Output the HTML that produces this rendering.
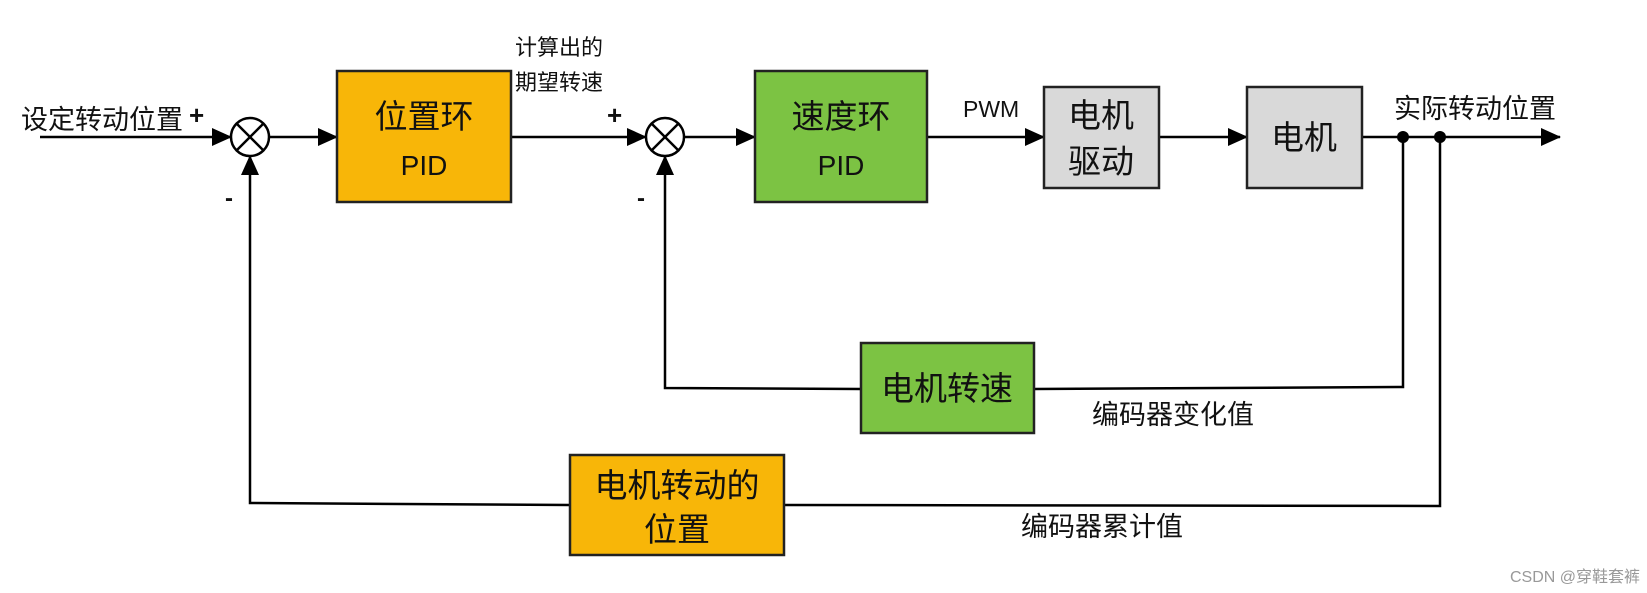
<!DOCTYPE html>
<html><head><meta charset="utf-8"><style>
html,body{margin:0;padding:0;background:#fff;}
svg{display:block;}
text{font-family:"Liberation Sans","Noto Sans CJK SC",sans-serif;fill:#111;}
</style></head><body>
<svg width="1647" height="593" viewBox="0 0 1647 593" xmlns="http://www.w3.org/2000/svg">
<defs>
<marker id="b" markerWidth="20" markerHeight="20" refX="19" refY="10" orient="auto" markerUnits="userSpaceOnUse"><path d="M0,1 L20,10 L0,19 Z" fill="#000"/></marker></defs>
<g stroke="#000" stroke-width="2.5" fill="none">
<line x1="40" y1="137" x2="231" y2="137" marker-end="url(#b)"/>
<line x1="269" y1="137" x2="337" y2="137" marker-end="url(#b)"/>
<line x1="511" y1="137" x2="646" y2="137" marker-end="url(#b)"/>
<line x1="684" y1="137" x2="755" y2="137" marker-end="url(#b)"/>
<line x1="927" y1="137" x2="1044" y2="137" marker-end="url(#b)"/>
<line x1="1159" y1="137" x2="1247" y2="137" marker-end="url(#b)"/>
<line x1="1362" y1="137" x2="1560" y2="137" marker-end="url(#b)"/>
<polyline points="1403,137 1403,387 1034,389"/>
<polyline points="861,389 665,388 665,156" marker-end="url(#b)"/>
<polyline points="1440,137 1440,506 784,505"/>
<polyline points="570,505 250,503 250,156" marker-end="url(#b)"/>
<circle cx="250" cy="137" r="19" fill="#fff"/>
<line x1="237" y1="124" x2="263" y2="150"/><line x1="263" y1="124" x2="237" y2="150"/>
<circle cx="665" cy="137" r="19" fill="#fff"/>
<line x1="652" y1="124" x2="678" y2="150"/><line x1="678" y1="124" x2="652" y2="150"/>
</g>
<circle cx="1403" cy="137" r="6" fill="#000"/>
<circle cx="1440" cy="137" r="6" fill="#000"/>
<g stroke="#222" stroke-width="2.5">
<rect x="337" y="71" width="174" height="131" fill="#F8B608"/>
<rect x="755" y="71" width="172" height="131" fill="#7CC343"/>
<rect x="1044" y="87" width="115" height="101" fill="#D9D9D9"/>
<rect x="1247" y="87" width="115" height="101" fill="#D9D9D9"/>
<rect x="861" y="343" width="173" height="90" fill="#7CC343"/>
<rect x="570" y="455" width="214" height="100" fill="#F8B608"/>
</g>
<g font-size="33" text-anchor="middle">
<text x="424" y="128">位置环</text><text x="424" y="175" font-size="28">PID</text>
<text x="841" y="128">速度环</text><text x="841" y="175" font-size="28">PID</text>
<text x="1101" y="127">电机</text><text x="1101" y="173">驱动</text>
<text x="1304" y="149">电机</text>
<text x="947" y="400">电机转速</text>
<text x="677" y="497">电机转动的</text><text x="677" y="541">位置</text>
</g>
<g font-size="27">
<text x="21" y="129">设定转动位置</text>
<text x="189" y="124" font-size="26" font-weight="bold">+</text>
<text x="515" y="55" font-size="22">计算出的</text>
<text x="515" y="90" font-size="22">期望转速</text>
<text x="607" y="124" font-size="26" font-weight="bold">+</text>
<text x="963" y="117" font-size="23">PWM</text>
<text x="1394" y="118">实际转动位置</text>
<text x="1092" y="424">编码器变化值</text>
<text x="1021" y="536">编码器累计值</text>
<text x="225" y="206" font-size="24" font-weight="bold">-</text>
<text x="637" y="206" font-size="24" font-weight="bold">-</text>
</g>
<text x="1640" y="582" font-size="16" text-anchor="end" style="fill:#999">CSDN @穿鞋套裤</text>
</svg>
</body></html>
